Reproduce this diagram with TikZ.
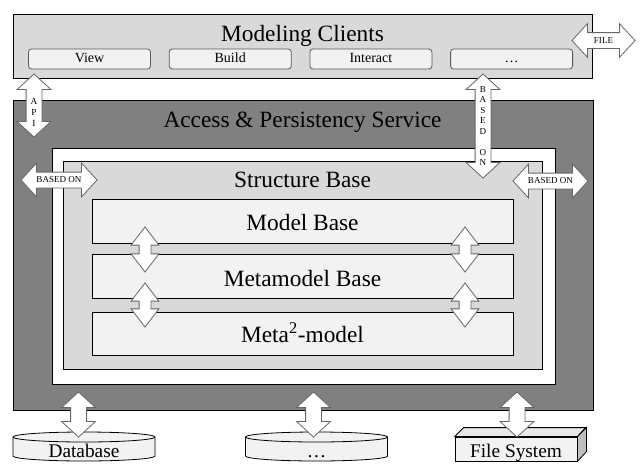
\documentclass[tikz,border=0pt]{standalone}
\usepackage{fontspec}
\setmainfont{Liberation Serif}
\usetikzlibrary{shapes.arrows,fit,positioning}

\newdimen\px \px=0.75pt

\definecolor{layergray}{HTML}{D9D9D9}
\definecolor{servicegray}{HTML}{808080}
\definecolor{boxfill}{HTML}{F2F2F2}
\definecolor{sidegray}{HTML}{BFBFBF}
\definecolor{topgray}{HTML}{E8E8E8}

\tikzset{
  panel/.style={draw=black, line width=0.75pt, inner sep=0pt},
  clientbox/.style={draw=black!65, fill=boxfill, rounded corners=3\px, line width=0.6pt,
    minimum width=122\px, minimum height=20\px, inner sep=0pt,
    font=\fontsize{10.5}{12}\selectfont, text height=1.5ex, text depth=.25ex},
  heading/.style={anchor=base, inner sep=0pt, font=\fontsize{17.5}{20}\selectfont},
  storetext/.style={anchor=base, inner sep=0pt, font=\fontsize{14.5}{17}\selectfont},
  arrowtext/.style={inner sep=0pt, align=center, font=\fontsize{6.8}{7.9}\selectfont},
  bigarrow/.style={double arrow, draw=black!60, fill=white, line width=0.6pt,
    inner xsep=0pt, inner ysep=7.5\px, double arrow head extend=9\px,
    double arrow tip angle=95},
  smallarrow/.style={bigarrow, inner ysep=5.5\px, double arrow head extend=8\px,
    double arrow tip angle=75},
}

\begin{document}
\begin{tikzpicture}[x=0.75pt, y=-0.75pt]
    \useasboundingbox (0,0) rectangle (642,475);

    % Modeling clients on top, with its four client boxes
    \node[panel, fill=layergray, fit={(13,14) (592,78)}] (clients) {};
    \node[heading] (clientstitle) at (302.5,41) {Modeling Clients};
    \foreach \name/\lbl [count=\i from 0] in {view/View, build/Build, interact/Interact, more/\dots}
        \node[clientbox] (\name) at ({89.5+140.7*\i},59) {\lbl};

    % Access & persistency service around the nested bases
    \node[panel, fill=servicegray, fit={(13,100) (593,410)}] (service) {};
    \node[heading] (servicetitle) at (302.5,127) {Access \& Persistency Service};
    \node[panel, fill=white, fit={(52,148) (555,384)}] (frame) {}; % white ring
    \node[panel, fill=layergray, fit={(63,161) (542,369)}] (structure) {};
    \node[heading] (structuretitle) at (302.5,187) {Structure Base};

    % The three layers of the structure base
    \foreach \name/\top/\bot/\base/\lbl in {model/199/243/230/Model Base,
            metamodel/254/298/286/Metamodel Base,
            metameta/312/355/342/Meta\textsuperscript{2}-model} {
        \node[panel, fill=boxfill, fit={(92,\top) (513,\bot)}] (\name) {};
        \node[heading] (\name text) at (302.5,\base) {\lbl};
    }

    % Storages at the bottom: two cylinders and the file system block
    \foreach \name/\cx/\lbl in {database/84/Database, storemore/316.5/\dots} {
        \filldraw[fill=boxfill, line width=0.6pt] ({\cx-71},437) -- ({\cx-71},456)
            arc[start angle=180, end angle=360, x radius=71\px, y radius=5\px]
            -- ({\cx+71},437)
            arc[start angle=0, end angle=180, x radius=71\px, y radius=5\px] -- cycle;
        \draw[line width=0.6pt] ({\cx-71},437)
            arc[start angle=180, end angle=360, x radius=71\px, y radius=5\px]; % front rim
        \node[storetext] (\name) at (\cx,457) {\lbl};
    }
    \node[panel, line width=0.6pt, fill=boxfill, fit={(455,437) (577,461)}] (filesys) {};
    \filldraw[fill=topgray, line width=0.6pt] (filesys.north west) -- ++(9,-9) -- ++(122,0)
        -- (filesys.north east) -- cycle; % top face
    \filldraw[fill=sidegray, line width=0.6pt] (filesys.north east) -- ++(9,-9) -- ++(0,24)
        -- (filesys.south east) -- cycle; % side face
    \node[storetext] (filesystext) at (516,457) {File System};

    % Block arrows between the parts
    \node[bigarrow, rotate=90, minimum height=63\px] (api) at (34,105.5) {};
    \node[arrowtext, font=\fontsize{7}{8.25}\selectfont] (apitext) at (34,112) {A\\P\\I};
    \node[bigarrow, minimum height=63\px] (file) at (603.5,40.5) {};
    \node[arrowtext] (filetext) at (603.5,40.5) {FILE};
    \node[bigarrow, rotate=90, minimum height=104\px] (basedtop) at (483,126) {};
    \node[arrowtext] (basedtoptext) at (483,126) {B\\A\\S\\E\\D\\\mbox{}\\O\\N};
    \node[bigarrow, minimum height=76\px] (basedleft) at (59,180) {};
    \node[arrowtext] (basedlefttext) at (59,180) {BASED ON};
    \node[bigarrow, minimum height=75\px] (basedright) at (550.5,181) {};
    \node[arrowtext] (basedrighttext) at (550.5,181) {BASED ON};

    % Arrows between the layers
    \foreach \x [count=\i] in {145,465} {
        \node[smallarrow, rotate=90, minimum height=45\px] (upper\i) at (\x,249.5) {};
        \node[smallarrow, rotate=90, minimum height=44\px] (lower\i) at (\x,305) {};
    }

    % Arrows down to the storages
    \foreach \x [count=\i] in {78.5,313.5,517}
        \node[bigarrow, rotate=90, minimum height=45\px] (storearrow\i) at (\x,414.5) {};

\end{tikzpicture}
\end{document}
